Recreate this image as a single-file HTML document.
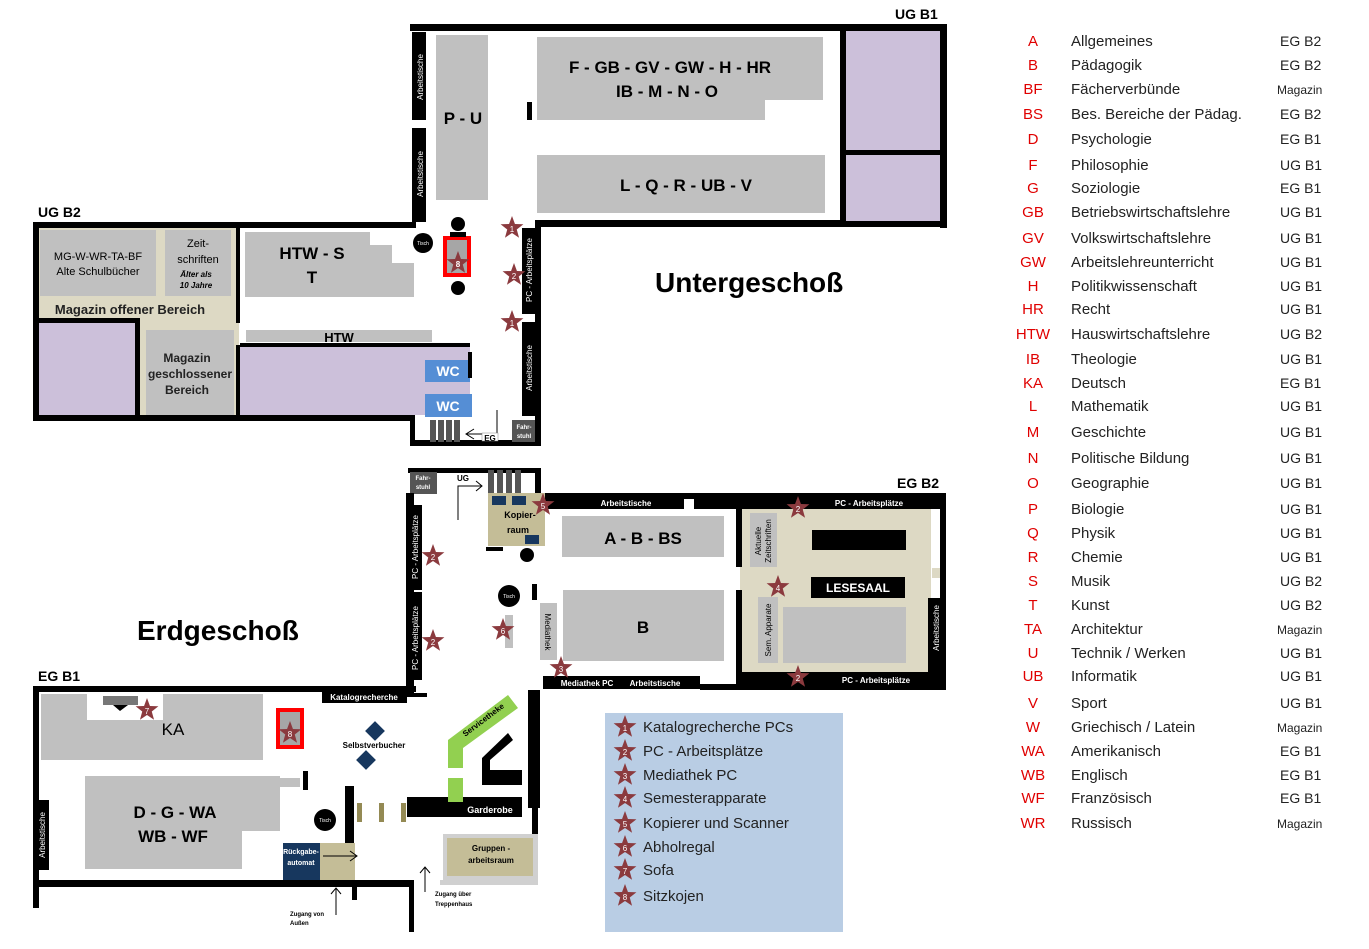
<!DOCTYPE html>
<html><head><meta charset="utf-8"><style>
body{margin:0;background:#fff;}
svg text{font-family:"Liberation Sans",sans-serif;}
</style></head><body>
<svg width="1369" height="944" viewBox="0 0 1369 944" xmlns="http://www.w3.org/2000/svg">
<defs>
<polygon id="st" points="0,-12 2.94,-4.05 11.41,-3.71 4.76,1.55 7.05,9.71 0,5 -7.05,9.71 -4.76,1.55 -11.41,-3.71 -2.94,-4.05" fill="#8b3a3e"/>
</defs>
<!-- ================= UG ================= -->
<text x="895" y="19" font-size="14" font-weight="bold">UG B1</text>
<text x="38" y="217" font-size="14" font-weight="bold">UG B2</text>
<!-- UG B1 walls -->
<rect x="410" y="24" width="537" height="7" fill="#000"/>
<rect x="940" y="24" width="7" height="204" fill="#000"/>
<rect x="535" y="220" width="412" height="7" fill="#000"/>
<rect x="412" y="32" width="14" height="88" fill="#000"/>
<rect x="412" y="128" width="14" height="94" fill="#000"/>
<text transform="translate(423,77) rotate(-90)" font-size="8" fill="#fff" text-anchor="middle">Arbeitstische</text>
<text transform="translate(423,174) rotate(-90)" font-size="8" fill="#fff" text-anchor="middle">Arbeitstische</text>
<rect x="846" y="31" width="94" height="119" fill="#ccc0da"/>
<rect x="846" y="155" width="94" height="66" fill="#ccc0da"/>
<rect x="840" y="31" width="6" height="190" fill="#000"/>
<rect x="840" y="150" width="100" height="5" fill="#000"/>
<rect x="436" y="35" width="52" height="165" fill="#c0c0c0"/>
<text x="463" y="124" font-size="17" font-weight="bold" text-anchor="middle">P - U</text>
<rect x="537" y="37" width="286" height="63" fill="#c0c0c0"/>
<rect x="537" y="98" width="228" height="22" fill="#c0c0c0"/>
<text x="670" y="73" font-size="17" font-weight="bold" text-anchor="middle">F - GB - GV - GW - H - HR</text>
<text x="667" y="97" font-size="17" font-weight="bold" text-anchor="middle">IB - M - N - O</text>
<rect x="527" y="102" width="5" height="18" fill="#000"/>
<rect x="537" y="155" width="288" height="58" fill="#c0c0c0"/>
<text x="686" y="191" font-size="17" font-weight="bold" text-anchor="middle">L - Q - R - UB - V</text>
<!-- UG B2 -->
<rect x="39" y="228" width="200" height="188" fill="#ddd9c4"/>
<rect x="33" y="222" width="383" height="6" fill="#000"/>
<rect x="33" y="222" width="6" height="199" fill="#000"/>
<rect x="33" y="415" width="380" height="6" fill="#000"/>
<rect x="40" y="230" width="116" height="66" fill="#c0c0c0"/>
<text x="98" y="260" font-size="11" text-anchor="middle">MG-W-WR-TA-BF</text>
<text x="98" y="275" font-size="11" text-anchor="middle">Alte Schulbücher</text>
<rect x="165" y="230" width="66" height="66" fill="#c0c0c0"/>
<text x="198" y="247" font-size="11" text-anchor="middle">Zeit-</text>
<text x="198" y="263" font-size="11" text-anchor="middle">schriften</text>
<text x="196" y="277" font-size="8" font-style="italic" font-weight="bold" text-anchor="middle">Älter als</text>
<text x="196" y="288" font-size="8" font-style="italic" font-weight="bold" text-anchor="middle">10 Jahre</text>
<text x="130" y="314" font-size="13" font-weight="bold" text-anchor="middle" fill="#222">Magazin offener Bereich</text>
<rect x="236" y="228" width="4" height="95" fill="#000"/>
<rect x="236" y="345" width="4" height="73" fill="#000"/>
<rect x="39" y="323" width="96" height="92" fill="#ccc0da"/>
<rect x="135" y="318" width="5" height="98" fill="#000"/>
<rect x="39" y="318" width="100" height="5" fill="#000"/>
<rect x="146" y="330" width="88" height="85" fill="#c0c0c0"/>
<text x="187" y="362" font-size="12" font-weight="bold" text-anchor="middle" fill="#222">Magazin</text>
<text x="190" y="378" font-size="12" font-weight="bold" text-anchor="middle" fill="#222">geschlossener</text>
<text x="187" y="394" font-size="12" font-weight="bold" text-anchor="middle" fill="#222">Bereich</text>
<rect x="245" y="232" width="125" height="65" fill="#c0c0c0"/>
<rect x="365" y="245" width="27" height="52" fill="#c0c0c0"/>
<rect x="365" y="263" width="49" height="34" fill="#c0c0c0"/>
<text x="312" y="259" font-size="17" font-weight="bold" text-anchor="middle">HTW - S</text>
<text x="312" y="283" font-size="17" font-weight="bold" text-anchor="middle">T</text>
<rect x="246" y="330" width="186" height="12" fill="#c0c0c0"/>
<text x="339" y="342" font-size="13" font-weight="bold" text-anchor="middle">HTW</text>
<rect x="240" y="343" width="230" height="4" fill="#000"/>
<rect x="240" y="347" width="230" height="68" fill="#ccc0da"/>
<rect x="425" y="360" width="45" height="22" fill="#558ed5"/>
<rect x="425" y="394" width="47" height="23" fill="#558ed5"/>
<text x="448" y="376" font-size="14" font-weight="bold" fill="#fff" text-anchor="middle">WC</text>
<text x="448" y="411" font-size="14" font-weight="bold" fill="#fff" text-anchor="middle">WC</text>
<rect x="468" y="352" width="4" height="26" fill="#000"/>
<!-- stairs UG -->
<rect x="410" y="415" width="5" height="31" fill="#000"/>
<rect x="410" y="440" width="131" height="6" fill="#000"/>
<rect x="430" y="420" width="6" height="22" fill="#555"/><rect x="438" y="420" width="6" height="22" fill="#555"/><rect x="446" y="420" width="6" height="22" fill="#555"/><rect x="454" y="420" width="6" height="22" fill="#555"/>
<path d="M466 434 L497 434 L497 410 M474 429 L466 434 L474 439" stroke="#000" fill="none" stroke-width="1"/>
<rect x="482" y="433" width="16" height="8" fill="#fff" stroke="#888" stroke-width="0.5"/>
<text x="490" y="441" font-size="8" font-weight="bold" text-anchor="middle">EG</text>
<rect x="512" y="420" width="25" height="22" fill="#555"/>
<text x="524" y="429" font-size="6" font-weight="bold" fill="#fff" text-anchor="middle">Fahr-</text>
<text x="524" y="438" font-size="6" font-weight="bold" fill="#fff" text-anchor="middle">stuhl</text>
<rect x="535" y="222" width="6" height="224" fill="#000"/>
<rect x="522" y="228" width="15" height="86" fill="#000"/>
<rect x="522" y="322" width="15" height="94" fill="#000"/>
<text transform="translate(532,270) rotate(-90)" font-size="8" fill="#fff" text-anchor="middle">PC - Arbeitsplätze</text>
<text transform="translate(532,368) rotate(-90)" font-size="8" fill="#fff" text-anchor="middle">Arbeitstische</text>
<text x="655" y="292" font-size="28" font-weight="bold">Untergeschoß</text>
<circle cx="423" cy="243" r="10" fill="#000"/><text x="423" y="245" font-size="5" fill="#fff" text-anchor="middle">Tisch</text>
<circle cx="458" cy="224" r="7" fill="#000"/><circle cx="458" cy="288" r="7" fill="#000"/>
<rect x="443" y="236" width="28" height="41" fill="#ff0000"/>
<rect x="447" y="240" width="20" height="33" fill="#a6a6a6"/>
<rect x="450" y="232" width="16" height="5" fill="#000"/>
<use href="#st" x="458" y="263"/><text x="458" y="267" font-size="8" fill="#fff" text-anchor="middle" font-weight="bold">8</text>
<use href="#st" x="512" y="228"/><text x="512" y="232" font-size="8" fill="#fff" text-anchor="middle">1</text>
<use href="#st" x="514" y="275"/><text x="514" y="279" font-size="8" fill="#fff" text-anchor="middle">2</text>
<use href="#st" x="512" y="322"/><text x="512" y="326" font-size="8" fill="#fff" text-anchor="middle">1</text>

<!-- ================= EG ================= -->
<text x="897" y="488" font-size="14" font-weight="bold">EG B2</text>
<text x="38" y="681" font-size="14" font-weight="bold">EG B1</text>
<text x="137" y="640" font-size="28" font-weight="bold">Erdgeschoß</text>
<!-- stairs box -->
<rect x="408" y="468" width="133" height="5" fill="#000"/>
<rect x="535" y="468" width="6" height="30" fill="#000"/>
<rect x="410" y="472" width="27" height="22" fill="#555"/>
<text x="423" y="480" font-size="6" font-weight="bold" fill="#fff" text-anchor="middle">Fahr-</text>
<text x="423" y="489" font-size="6" font-weight="bold" fill="#fff" text-anchor="middle">stuhl</text>
<text x="463" y="481" font-size="8" font-weight="bold" text-anchor="middle">UG</text>
<path d="M458 520 L458 486 L482 486 M476 481 L482 486 L476 491" stroke="#000" fill="none"/>
<rect x="488" y="470" width="6" height="23" fill="#555"/><rect x="497" y="470" width="6" height="23" fill="#555"/><rect x="506" y="470" width="6" height="23" fill="#555"/><rect x="515" y="470" width="6" height="23" fill="#555"/>
<!-- top band -->
<rect x="540" y="493" width="406" height="16" fill="#000"/>
<rect x="684" y="499" width="10" height="11" fill="#fff"/>
<text x="626" y="506" font-size="8" font-weight="bold" fill="#fff" text-anchor="middle">Arbeitstische</text>
<text x="869" y="506" font-size="8" font-weight="bold" fill="#fff" text-anchor="middle">PC - Arbeitsplätze</text>
<!-- left wall -->
<rect x="406" y="493" width="8" height="200" fill="#000"/>
<rect x="408" y="505" width="14" height="85" fill="#000"/>
<rect x="408" y="592" width="14" height="88" fill="#000"/>
<text transform="translate(418,547) rotate(-90)" font-size="8" fill="#fff" text-anchor="middle">PC - Arbeitsplätze</text>
<text transform="translate(418,638) rotate(-90)" font-size="8" fill="#fff" text-anchor="middle">PC - Arbeitsplätze</text>
<!-- Kopierraum -->
<rect x="488" y="493" width="57" height="53" fill="#c4bd97"/>
<rect x="492" y="496" width="14" height="9" fill="#17375e"/><rect x="512" y="496" width="14" height="9" fill="#17375e"/><rect x="525" y="535" width="14" height="9" fill="#17375e"/>
<rect x="486" y="547" width="17" height="4" fill="#000"/>
<text x="520" y="518" font-size="9" font-weight="bold" text-anchor="middle">Kopier-</text>
<text x="518" y="533" font-size="9" font-weight="bold" text-anchor="middle">raum</text>
<rect x="562" y="516" width="162" height="41" fill="#c0c0c0"/>
<text x="643" y="544" font-size="17" font-weight="bold" text-anchor="middle">A - B - BS</text>
<rect x="563" y="590" width="161" height="71" fill="#c0c0c0"/>
<text x="643" y="633" font-size="17" font-weight="bold" text-anchor="middle">B</text>
<rect x="540" y="603" width="17" height="57" fill="#c0c0c0"/>
<text transform="translate(545,632) rotate(90)" font-size="8" text-anchor="middle">Mediathek</text>
<circle cx="527" cy="555" r="7" fill="#000"/>
<circle cx="509" cy="596" r="11" fill="#000"/><text x="509" y="598" font-size="5" fill="#fff" text-anchor="middle">Tisch</text>
<rect x="532" y="584" width="5" height="16" fill="#000"/>
<rect x="505" y="615" width="8" height="33" fill="#c0c0c0"/>
<rect x="543" y="676" width="157" height="13" fill="#000"/>
<text x="587" y="686" font-size="8" font-weight="bold" fill="#fff" text-anchor="middle">Mediathek PC</text>
<text x="655" y="686" font-size="8" font-weight="bold" fill="#fff" text-anchor="middle">Arbeitstische</text>
<!-- Lesesaal -->
<rect x="740" y="509" width="191" height="176" fill="#ddd9c4"/>
<rect x="736" y="497" width="6" height="70" fill="#000"/>
<rect x="736" y="590" width="6" height="100" fill="#000"/>
<rect x="940" y="493" width="6" height="197" fill="#000"/>
<rect x="700" y="684" width="246" height="6" fill="#000"/>
<rect x="742" y="672" width="198" height="13" fill="#000"/>
<text x="876" y="683" font-size="8" font-weight="bold" fill="#fff" text-anchor="middle">PC - Arbeitsplätze</text>
<rect x="750" y="513" width="27" height="54" fill="#c0c0c0"/>
<text transform="translate(761,541) rotate(-90)" font-size="8" text-anchor="middle">Aktuelle</text>
<text transform="translate(771,541) rotate(-90)" font-size="8" text-anchor="middle">Zeitschriften</text>
<rect x="758" y="597" width="20" height="66" fill="#c0c0c0"/>
<text transform="translate(771,630) rotate(-90)" font-size="8" text-anchor="middle">Sem. Apparate</text>
<rect x="812" y="530" width="94" height="20" fill="#000"/>
<rect x="811" y="577" width="94" height="21" fill="#000"/>
<text x="858" y="592" font-size="12" font-weight="bold" fill="#fff" text-anchor="middle">LESESAAL</text>
<rect x="783" y="607" width="123" height="56" fill="#c0c0c0"/>
<rect x="928" y="598" width="16" height="76" fill="#000"/>
<text transform="translate(939,628) rotate(-90)" font-size="8" fill="#fff" text-anchor="middle">Arbeitstische</text>
<rect x="932" y="568" width="8" height="10" fill="#ddd9c4"/>
<use href="#st" x="543" y="505"/><text x="543" y="509" font-size="8" fill="#fff" text-anchor="middle">5</text>
<use href="#st" x="798" y="508"/><text x="798" y="512" font-size="8" fill="#fff" text-anchor="middle">2</text>
<use href="#st" x="433" y="556"/><text x="433" y="560" font-size="8" fill="#fff" text-anchor="middle">2</text>
<use href="#st" x="778" y="587"/><text x="778" y="591" font-size="8" fill="#fff" text-anchor="middle">4</text>
<use href="#st" x="433" y="641"/><text x="433" y="645" font-size="8" fill="#fff" text-anchor="middle">2</text>
<use href="#st" x="503" y="630"/><text x="503" y="634" font-size="8" fill="#fff" text-anchor="middle">6</text>
<use href="#st" x="561" y="668"/><text x="561" y="672" font-size="8" fill="#fff" text-anchor="middle">3</text>
<use href="#st" x="798" y="677"/><text x="798" y="681" font-size="8" fill="#fff" text-anchor="middle">2</text>
<!-- EG B1 -->
<rect x="33" y="686" width="383" height="6" fill="#000"/>
<rect x="322" y="690" width="85" height="13" fill="#000"/>
<text x="364" y="700" font-size="8" font-weight="bold" fill="#fff" text-anchor="middle">Katalogrecherche</text>
<rect x="407" y="693" width="20" height="4" fill="#000"/>
<rect x="33" y="686" width="6" height="222" fill="#000"/>
<rect x="36" y="800" width="13" height="70" fill="#000"/>
<text transform="translate(45,835) rotate(-90)" font-size="8" fill="#fff" text-anchor="middle">Arbeitstische</text>
<rect x="33" y="880" width="377" height="7" fill="#000"/>
<rect x="41" y="694" width="222" height="66" fill="#c0c0c0"/>
<rect x="87" y="694" width="76" height="26" fill="#fff"/>
<rect x="103" y="696" width="35" height="9" fill="#777"/>
<polygon points="113,705 128,705 120,711" fill="#000"/>
<use href="#st" x="147" y="710"/><text x="147" y="714" font-size="8" fill="#fff" text-anchor="middle">7</text>
<text x="173" y="735" font-size="17" text-anchor="middle">KA</text>
<rect x="276" y="708" width="28" height="41" fill="#ff0000"/>
<rect x="280" y="712" width="20" height="33" fill="#a6a6a6"/>
<use href="#st" x="290" y="733"/><text x="290" y="737" font-size="8" fill="#fff" text-anchor="middle">8</text>
<rect x="85" y="776" width="195" height="55" fill="#c0c0c0"/>
<rect x="85" y="776" width="157" height="93" fill="#c0c0c0"/>
<rect x="278" y="778" width="22" height="9" fill="#c0c0c0"/>
<text x="175" y="818" font-size="17" font-weight="bold" text-anchor="middle">D - G - WA</text>
<text x="173" y="842" font-size="17" font-weight="bold" text-anchor="middle">WB - WF</text>
<rect x="303" y="771" width="5" height="19" fill="#000"/>
<rect x="368" y="724" width="14" height="14" fill="#17375e" transform="rotate(45 375 731)"/>
<rect x="359" y="753" width="14" height="14" fill="#17375e" transform="rotate(45 366 760)"/>
<text x="374" y="748" font-size="8" font-weight="bold" text-anchor="middle">Selbstverbucher</text>
<circle cx="325" cy="820" r="11" fill="#000"/><text x="325" y="822" font-size="5" fill="#fff" text-anchor="middle">Tisch</text>
<rect x="345" y="786" width="9" height="94" fill="#000"/>
<rect x="352" y="885" width="5" height="15" fill="#000"/>
<rect x="283" y="843" width="37" height="37" fill="#17375e"/>
<text x="301" y="854" font-size="7" font-weight="bold" fill="#fff" text-anchor="middle">Rückgabe-</text>
<text x="301" y="865" font-size="7" font-weight="bold" fill="#fff" text-anchor="middle">automat</text>
<rect x="320" y="843" width="35" height="37" fill="#c4bd97"/>
<path d="M323 856 L357 856 M350 851 L357 856 L350 861" stroke="#000" fill="none"/>
<rect x="357" y="803" width="5" height="19" fill="#948a54"/>
<rect x="379" y="803" width="5" height="19" fill="#948a54"/>
<rect x="401" y="803" width="5" height="19" fill="#948a54"/>
<rect x="407" y="797" width="115" height="20" fill="#000"/>
<text x="490" y="813" font-size="9" font-weight="bold" fill="#fff" text-anchor="middle">Garderobe</text>
<polygon points="448,740 508,695 518,708 463,748 463,768 448,768" fill="#92d050"/>
<rect x="448" y="778" width="15" height="24" fill="#92d050"/>
<text transform="translate(485,722) rotate(-37)" font-size="8" font-weight="bold" text-anchor="middle">Servicetheke</text>
<polygon points="508,733 513,740 490,760 490,770 522,770 522,785 482,785 482,758" fill="#000"/>
<rect x="528" y="690" width="12" height="118" fill="#000"/>
<rect x="532" y="808" width="6" height="72" fill="#000"/>
<rect x="443" y="834" width="95" height="46" fill="#d0d0d0"/>
<rect x="447" y="838" width="86" height="38" fill="#c4bd97"/>
<text x="491" y="851" font-size="8" font-weight="bold" text-anchor="middle">Gruppen -</text>
<text x="491" y="863" font-size="8" font-weight="bold" text-anchor="middle">arbeitsraum</text>
<rect x="440" y="880" width="98" height="5" fill="#d0d0d0"/>
<rect x="409" y="880" width="5" height="52" fill="#000"/>
<path d="M336 915 L336 888 M331 894 L336 888 L341 894" stroke="#000" fill="none"/>
<text x="290" y="916" font-size="6" font-weight="bold">Zugang von</text>
<text x="290" y="925" font-size="6" font-weight="bold">Außen</text>
<path d="M425 892 L425 867 M420 873 L425 867 L430 873" stroke="#000" fill="none"/>
<text x="435" y="896" font-size="6" font-weight="bold">Zugang über</text>
<text x="435" y="906" font-size="6" font-weight="bold">Treppenhaus</text>
<!-- legend box -->
<rect x="605" y="713" width="238" height="219" fill="#b9cde4"/>
<g font-size="15" fill="#222">
<use href="#st" x="625" y="727"/><text x="625" y="731" font-size="8" fill="#fff" text-anchor="middle">1</text><text x="643" y="732">Katalogrecherche PCs</text>
<use href="#st" x="625" y="751"/><text x="625" y="755" font-size="8" fill="#fff" text-anchor="middle">2</text><text x="643" y="756">PC - Arbeitsplätze</text>
<use href="#st" x="625" y="775"/><text x="625" y="779" font-size="8" fill="#fff" text-anchor="middle">3</text><text x="643" y="780">Mediathek PC</text>
<use href="#st" x="625" y="798"/><text x="625" y="802" font-size="8" fill="#fff" text-anchor="middle">4</text><text x="643" y="803">Semesterapparate</text>
<use href="#st" x="625" y="823"/><text x="625" y="827" font-size="8" fill="#fff" text-anchor="middle">5</text><text x="643" y="828">Kopierer und Scanner</text>
<use href="#st" x="625" y="847"/><text x="625" y="851" font-size="8" fill="#fff" text-anchor="middle">6</text><text x="643" y="852">Abholregal</text>
<use href="#st" x="625" y="870"/><text x="625" y="874" font-size="8" fill="#fff" text-anchor="middle">7</text><text x="643" y="875">Sofa</text>
<use href="#st" x="625" y="896"/><text x="625" y="900" font-size="8" fill="#fff" text-anchor="middle">8</text><text x="643" y="901">Sitzkojen</text>
</g>
<!-- right legend -->
<g font-size="15" fill="#222">
<g fill="#e00000" text-anchor="middle">
<text x="1033" y="46">A</text><text x="1033" y="70">B</text><text x="1033" y="94">BF</text><text x="1033" y="119">BS</text><text x="1033" y="144">D</text><text x="1033" y="170">F</text><text x="1033" y="193">G</text><text x="1033" y="217">GB</text><text x="1033" y="243">GV</text><text x="1033" y="267">GW</text><text x="1033" y="291">H</text><text x="1033" y="314">HR</text><text x="1033" y="339">HTW</text><text x="1033" y="364">IB</text><text x="1033" y="388">KA</text><text x="1033" y="411">L</text><text x="1033" y="437">M</text><text x="1033" y="463">N</text><text x="1033" y="488">O</text><text x="1033" y="514">P</text><text x="1033" y="538">Q</text><text x="1033" y="562">R</text><text x="1033" y="586">S</text><text x="1033" y="610">T</text><text x="1033" y="634">TA</text><text x="1033" y="658">U</text><text x="1033" y="681">UB</text><text x="1033" y="708">V</text><text x="1033" y="732">W</text><text x="1033" y="756">WA</text><text x="1033" y="780">WB</text><text x="1033" y="803">WF</text><text x="1033" y="828">WR</text>
</g>
<text x="1071" y="46">Allgemeines</text><text x="1071" y="70">Pädagogik</text><text x="1071" y="94">Fächerverbünde</text><text x="1071" y="119">Bes. Bereiche der Pädag.</text><text x="1071" y="144">Psychologie</text><text x="1071" y="170">Philosophie</text><text x="1071" y="193">Soziologie</text><text x="1071" y="217">Betriebswirtschaftslehre</text><text x="1071" y="243">Volkswirtschaftslehre</text><text x="1071" y="267">Arbeitslehreunterricht</text><text x="1071" y="291">Politikwissenschaft</text><text x="1071" y="314">Recht</text><text x="1071" y="339">Hauswirtschaftslehre</text><text x="1071" y="364">Theologie</text><text x="1071" y="388">Deutsch</text><text x="1071" y="411">Mathematik</text><text x="1071" y="437">Geschichte</text><text x="1071" y="463">Politische Bildung</text><text x="1071" y="488">Geographie</text><text x="1071" y="514">Biologie</text><text x="1071" y="538">Physik</text><text x="1071" y="562">Chemie</text><text x="1071" y="586">Musik</text><text x="1071" y="610">Kunst</text><text x="1071" y="634">Architektur</text><text x="1071" y="658">Technik / Werken</text><text x="1071" y="681">Informatik</text><text x="1071" y="708">Sport</text><text x="1071" y="732">Griechisch / Latein</text><text x="1071" y="756">Amerikanisch</text><text x="1071" y="780">Englisch</text><text x="1071" y="803">Französisch</text><text x="1071" y="828">Russisch</text>
<g font-size="14">
<text x="1280" y="46">EG B2</text><text x="1280" y="70">EG B2</text><text x="1277" y="94" font-size="12">Magazin</text><text x="1280" y="119">EG B2</text><text x="1280" y="144">EG B1</text><text x="1280" y="170">UG B1</text><text x="1280" y="193">EG B1</text><text x="1280" y="217">UG B1</text><text x="1280" y="243">UG B1</text><text x="1280" y="267">UG B1</text><text x="1280" y="291">UG B1</text><text x="1280" y="314">UG B1</text><text x="1280" y="339">UG B2</text><text x="1280" y="364">UG B1</text><text x="1280" y="388">EG B1</text><text x="1280" y="411">UG B1</text><text x="1280" y="437">UG B1</text><text x="1280" y="463">UG B1</text><text x="1280" y="488">UG B1</text><text x="1280" y="514">UG B1</text><text x="1280" y="538">UG B1</text><text x="1280" y="562">UG B1</text><text x="1280" y="586">UG B2</text><text x="1280" y="610">UG B2</text><text x="1277" y="634" font-size="12">Magazin</text><text x="1280" y="658">UG B1</text><text x="1280" y="681">UG B1</text><text x="1280" y="708">UG B1</text><text x="1277" y="732" font-size="12">Magazin</text><text x="1280" y="756">EG B1</text><text x="1280" y="780">EG B1</text><text x="1280" y="803">EG B1</text><text x="1277" y="828" font-size="12">Magazin</text>
</g>
</g>
</svg>
</body></html>
